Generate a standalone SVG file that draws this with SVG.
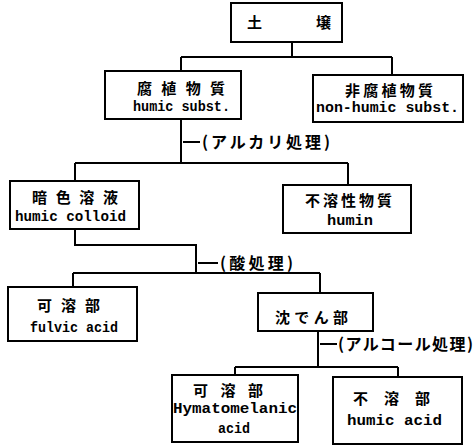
<svg xmlns="http://www.w3.org/2000/svg" width="475" height="448" viewBox="0 0 475 448">
<style>
.box{fill:#fff;stroke:#000;stroke-width:2}
.ln{fill:none;stroke:#000;stroke-width:2}
.jp{font-family:"Noto Sans CJK JP","Noto Sans CJK SC",sans-serif;font-size:15px;font-weight:bold;fill:#000}
.en{font-family:"Liberation Mono",monospace;font-size:14px;font-weight:bold;fill:#000}
.lb{font-family:"Noto Sans CJK JP","Noto Sans CJK SC",sans-serif;font-size:16px;font-weight:bold;fill:#000}
</style>
<rect width="475" height="448" fill="#fff"/>
<g id="connectors">
<path class="ln" d="M292 42V57M181 57H392M181 57V71M392 57V75"/>
<path class="ln" d="M181 119V163M75 163H348M75 163V181M348 163V185"/>
<path class="ln" d="M183 142H200"/>
<path class="ln" d="M75 229V245H196V273M73 273H320M73 273V287M320 273V293"/>
<path class="ln" d="M198 263H218"/>
<path class="ln" d="M318 331V367M235 367H398M235 367V375M398 367V377"/>
<path class="ln" d="M320 344H337"/>
<text class="lb" x="202" y="148" textLength="128" lengthAdjust="spacing">(アルカリ処理)</text>
<text class="lb" x="220" y="269" textLength="73" lengthAdjust="spacing">(酸処理)</text>
<text class="lb" x="338" y="350" textLength="135" lengthAdjust="spacing">(アルコール処理)</text>
</g>
<g id="soil">
<rect class="box" x="231" y="3" width="111" height="39"/>
<text class="jp" x="247" y="28" font-size="16">土</text>
<text class="jp" x="316" y="28" font-size="16">壌</text>
</g>
<g id="humic-subst">
<rect class="box" x="105" y="71" width="136" height="48"/>
<text class="jp" x="137" y="94" textLength="88" lengthAdjust="spacing">腐植物質</text>
<text class="en" x="133" y="111" textLength="97" lengthAdjust="spacingAndGlyphs">humic subst.</text>
</g>
<g id="non-humic">
<rect class="box" x="313" y="75" width="150" height="47"/>
<text class="jp" x="345" y="96" textLength="88" lengthAdjust="spacing">非腐植物質</text>
<text class="en" x="316" y="112" textLength="143" lengthAdjust="spacingAndGlyphs">non-humic subst.</text>
</g>
<g id="humic-colloid">
<rect class="box" x="10" y="181" width="129" height="48"/>
<text class="jp" x="32" y="203" textLength="86" lengthAdjust="spacing">暗色溶液</text>
<text class="en" x="15" y="221" textLength="111" lengthAdjust="spacingAndGlyphs">humic colloid</text>
</g>
<g id="humin">
<rect class="box" x="283" y="185" width="128" height="48"/>
<text class="jp" x="305" y="206" textLength="87" lengthAdjust="spacing">不溶性物質</text>
<text class="en" x="327" y="225" textLength="46" lengthAdjust="spacingAndGlyphs">humin</text>
</g>
<g id="fulvic">
<rect class="box" x="8" y="287" width="129" height="54"/>
<text class="jp" x="37" y="311" textLength="63" lengthAdjust="spacing">可溶部</text>
<text class="en" x="30" y="332" textLength="88" lengthAdjust="spacingAndGlyphs">fulvic acid</text>
</g>
<g id="precipitate">
<rect class="box" x="258" y="293" width="115" height="38"/>
<text class="jp" x="275" y="323" font-size="16" textLength="73" lengthAdjust="spacing">沈でん部</text>
</g>
<g id="hymatomelanic">
<rect class="box" x="172" y="375" width="126" height="67"/>
<text class="jp" x="193" y="396" textLength="70" lengthAdjust="spacing">可溶部</text>
<text class="en" x="173" y="413" textLength="124" lengthAdjust="spacingAndGlyphs">Hymatomelanic</text>
<text class="en" x="218" y="433" textLength="32" lengthAdjust="spacingAndGlyphs">acid</text>
</g>
<g id="humic-acid">
<rect class="box" x="333" y="377" width="129" height="67"/>
<text class="jp" x="353" y="404" font-size="16" textLength="77" lengthAdjust="spacing">不溶部</text>
<text class="en" x="347" y="425" textLength="95" lengthAdjust="spacingAndGlyphs">humic acid</text>
</g>
</svg>
